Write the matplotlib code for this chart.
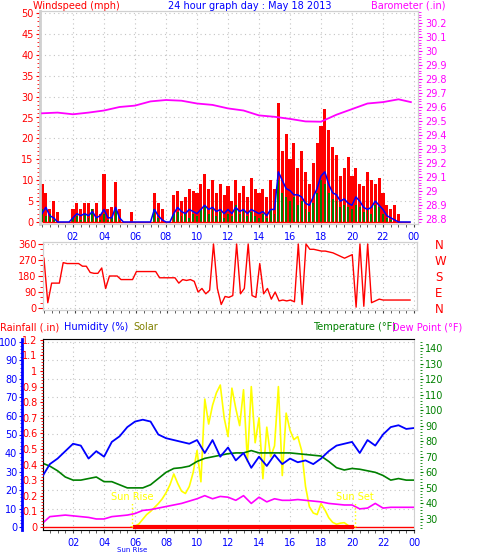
import numpy as np
import matplotlib.pyplot as plt
from matplotlib.ticker import MultipleLocator, FixedLocator, FuncFormatter
import matplotlib.transforms as mtransforms

plt.rcParams['font.family'] = ['DejaVu Sans']

# ---- data ----
# wind, every 15 minutes from 00:00
hours = np.arange(96) * 0.25
gust = [9, 7, 3, 5, 2.5, 0, 0, 0, 3, 4.5, 3, 4.5, 4.5, 3, 4.5, 2,
        11.5, 3, 3.5, 9.5, 3, 0, 0, 2.5, 0, 0, 0, 0, 0, 7, 4.5, 3,
        0, 0, 6.5, 7.5, 5, 6, 8, 7.5, 7, 9, 11.5, 8, 10, 7, 9, 6.5,
        8.5, 5, 10, 7, 8.5, 6, 10.5, 8, 7, 8, 6, 10, 8, 28.5, 17, 21,
        15, 19, 13, 17, 12, 9, 14, 19, 23, 27, 22, 18, 16, 11, 13, 15.5,
        11, 13, 9, 8.5, 12, 10, 9, 10.5, 7, 4, 3, 4, 2, 0, 0, 0]
avg_speed = [2, 3.5, 1.5, 1, 0, 0, 0, 0, 1, 2, 1.5, 2, 1.5, 2.5, 1, 1.5,
             3, 1, 1, 3.5, 1, 0, 0, 0, 0, 0, 0, 0, 0, 3, 1.5, 0.5,
             0, 0, 2, 3.5, 2.5, 2, 3, 2.5, 2, 3, 4, 3, 3.5, 2.5, 3, 2,
             3, 2, 3.5, 2.5, 3, 2, 3, 2.5, 2, 2.5, 1.5, 3, 3, 12, 10, 8,
             7.5, 6.5, 6.5, 6, 4.5, 4, 6, 8, 11, 12, 9, 7, 6.5, 5, 5.5, 4.5,
             4, 6, 5, 3.5, 3, 3.5, 5, 4, 3, 1.5, 1, 0.5, 0, 0, 0, 0]
speed = [3, 1.5, 2, 0.5, 0, 0, 0, 0, 1, 1.5, 0.5, 2, 1, 3, 1, 0.5,
         2, 0.5, 1, 3, 0.5, 0, 0, 0, 0, 0, 0, 0, 0, 3, 1, 0,
         0, 0, 2, 2.5, 1.5, 2, 1, 2, 1.5, 3, 4, 2, 3, 1.5, 2.5, 1,
         2, 1.5, 4, 2, 3, 1.5, 2.5, 1.5, 1, 2, 1, 3, 2, 10, 7, 6,
         5, 6, 4, 5, 3, 2.5, 4.5, 7, 10, 9, 7, 5.5, 5, 3.5, 4, 3.5,
         3, 4, 3.5, 2.5, 3, 2, 4, 3.5, 2, 1, 0.5, 0, 0, 0, 0, 0]
wind_dir = [280, 30, 140, 140, 140, 255, 250, 250, 250, 250, 235, 235, 200, 195, 195, 225,
            110, 180, 180, 180, 160, 160, 160, 160, 205, 205, 205, 205, 205, 205, 170, 170,
            170, 170, 170, 140, 160, 155, 160, 150, 90, 110, 80, 100, 360, 110, 20, 65,
            60, 70, 360, 80, 110, 360, 70, 60, 250, 80, 110, 50, 90, 40, 45, 40,
            45, 35, 360, 20, 360, 330, 330, 325, 320, 320, 315, 310, 300, 290, 280, 290,
            300, 5, 360, 10, 360, 30, 40, 50, 45, 45, 45, 45, 45, 45, 45, 45]

# barometer, hourly
baro_hours = [0, 1, 2, 3, 4, 5, 6, 7, 8, 9, 10, 11, 12, 13, 14, 15, 16, 17, 18, 19, 20, 21, 22, 23, 23.8]
barometer = [29.555, 29.56, 29.548, 29.56, 29.575, 29.60, 29.61, 29.64, 29.65, 29.645,
             29.625, 29.615, 29.59, 29.575, 29.54, 29.53, 29.515, 29.497, 29.495, 29.545,
             29.585, 29.625, 29.635, 29.655, 29.635]

# humidity / temperature / dew point, every 30 minutes
half_hours = np.arange(49) * 0.5
humidity = [27, 34, 37, 41, 45, 44, 37, 41, 38, 46, 49, 54, 57, 58, 57, 50, 48,
            47, 46, 45, 47, 40, 47, 38, 43, 36, 40, 32, 38, 33, 39, 34, 37,
            35, 36, 34, 37, 41, 44, 45, 46, 40, 47, 44, 50, 54, 55, 53, 53.5]
temperature = [66, 64, 61, 57, 55, 55, 56, 57, 54, 54, 52, 50, 50, 50, 52, 56, 60,
               62.5, 63, 64, 67, 69, 70, 71, 72, 72.5, 72.5, 74, 72.5, 72.5, 72.5, 72.5, 72.5,
               72, 71.5, 71, 70.5, 67, 63, 61.5, 62.5, 62, 61, 60, 58, 55, 56, 55, 55]
dew_point = [27, 31.5, 32, 32.5, 32, 31.5, 31, 30, 30, 31.5, 32, 32.5, 33.5, 35.5, 36, 37, 38,
             39, 40, 41.5, 43, 45, 43, 44.5, 44, 42, 45, 40, 44, 41, 43, 42, 42,
             42.5, 42, 41.5, 41, 40, 39.5, 39, 39, 36.5, 37, 40, 37, 37.5, 37.5, 37.5, 37.5]
rainfall = [0] * 49

# solar (W/m2), every 15 minutes between sunrise and sunset
solar_hours = np.arange(59) * 0.25 + 5.75
solar = [0, 5, 20, 50, 80, 100, 125, 150, 180, 220, 270, 340, 280, 230, 215, 260,
         350, 490, 290, 820, 660, 780, 860, 910, 700, 580, 890, 760, 650, 880, 420, 900,
         540, 700, 310, 640, 450, 520, 900, 330, 730, 620, 560, 580, 490, 260, 130, 90,
         80, 150, 110, 60, 30, 18, 25, 28, 10, 0, 0]
sunrise, sunset = 5.8, 20.2

tick_hours = [2, 4, 6, 8, 10, 12, 14, 16, 18, 20, 22, 24]
tick_labels = ['02', '04', '06', '08', '10', '12', '14', '16', '18', '20', '22', '00']

# ---- figure ----
W, H = 478, 555
fig = plt.figure(figsize=(W / 100, H / 100), dpi=100)
fig.patch.set_facecolor('white')


def box(x0, y0, x1, y1):
    return [x0 / W, 1 - y1 / H, (x1 - x0) / W, (y1 - y0) / H]


fmt = FuncFormatter(lambda v, p: f'{v:.2f}'.rstrip('0').rstrip('.'))
grid_kw = dict(color='#c4c4c4', linestyle=(0, (1, 3)), linewidth=0.8)
frame = '#d0d0d0'


def time_axis(ax, labels=True):
    ax.set_xticks(tick_hours)
    ax.set_xticklabels(tick_labels if labels else [])
    ax.xaxis.set_minor_locator(MultipleLocator(0.5))
    ax.tick_params(axis='x', which='both', colors='#404040', labelcolor='blue',
                   length=2, labelsize=7, pad=3.5)
    for s in ax.spines.values():
        s.set_color(frame)


# panel 1: wind + barometer
ax1 = fig.add_axes(box(40, 11, 418, 224))
ax1.bar(hours, gust, width=0.2, color='red', linewidth=0)
ax1.hlines(0, hours[0], hours[-1], color='red', lw=1)
ax1.bar(hours, speed, width=0.12, color='green', linewidth=0)
ax1.plot(hours, avg_speed, color='blue', lw=1.1)
ax1.set_xlim(-0.13, 24.26)
ax1.set_ylim(-0.48, 50.48)
time_axis(ax1)
ax1.set_yticks(np.arange(0, 51, 5))
ax1.yaxis.set_minor_locator(MultipleLocator(1))
ax1.tick_params(axis='y', which='both', colors='red', labelsize=7, pad=1.5)
ax1.tick_params(axis='y', which='major', length=3)
ax1.tick_params(axis='y', which='minor', length=2)
ax1.spines['left'].set_linewidth(2)
ax1.grid(True, **grid_kw)
ax1.set_axisbelow(True)

axb = ax1.twinx()
axb.plot(baro_hours, barometer, color='magenta', lw=1.3)
axb.set_ylim(28.764, 30.286)
axb.yaxis.set_major_locator(FixedLocator(np.round(np.arange(28.8, 30.25, 0.1), 1)))
axb.yaxis.set_minor_locator(MultipleLocator(0.02))
axb.yaxis.set_major_formatter(fmt)
axb.tick_params(axis='y', which='both', colors='magenta', labelsize=7, pad=2.5)
axb.tick_params(axis='y', which='major', length=3)
axb.tick_params(axis='y', which='minor', length=2)
for s in axb.spines.values():
    s.set_color(frame)

# panel 2: wind direction
ax2 = fig.add_axes(box(43, 242, 417, 310))
ax2.plot(hours, wind_dir, color='red', lw=1)
ax2.set_xlim(-0.06, 24.2)
ax2.set_ylim(-11, 371)
time_axis(ax2, labels=False)
ax2.set_yticks([0, 90, 180, 270, 360])
ax2.yaxis.set_minor_locator(MultipleLocator(30))
ax2.tick_params(axis='y', which='both', colors='red', labelsize=7, pad=1)
ax2.tick_params(axis='y', which='major', length=3.5)
ax2.tick_params(axis='y', which='minor', length=2)
ax2.grid(True, **grid_kw)
ax2.set_axisbelow(True)

ax2r = ax2.twinx()
ax2r.set_ylim(-11, 371)
ax2r.set_yticks([0, 90, 180, 270, 360])
ax2r.set_yticklabels(['N', 'E', 'S', 'W', 'N'])
ax2r.tick_params(axis='y', length=0, labelcolor='red', labelsize=8.5, pad=13)
for s in ax2r.spines.values():
    s.set_color(frame)

# panel 3: solar / temperature / humidity / rain
pos3 = box(43, 339, 414, 530)
hum_lim = (-1.6, 101.6)
sol_lim = (-19, 1205)
k = (sol_lim[1] - sol_lim[0]) / (hum_lim[1] - hum_lim[0])

axS = fig.add_axes(pos3)
axS.plot(solar_hours, solar, color='yellow', lw=1.2)
axS.set_xlim(0.06, 24.0)
axS.set_ylim(*sol_lim)
axS.set_yticks(np.arange(10, 101, 10) * k)
axS.tick_params(axis='y', length=0, labelleft=False)
time_axis(axS)
axS.grid(True, **grid_kw)
axS.set_axisbelow(True)

axT = axS.twinx()
axT.plot(half_hours, dew_point, color='magenta', lw=1.2)
axT.plot(half_hours, temperature, color='green', lw=1.2)
axT.set_ylim(22.9, 145.8)
axT.set_yticks(np.arange(30, 141, 10))
axT.yaxis.set_minor_locator(MultipleLocator(2))
axT.spines['right'].set_position(('outward', 4))
axT.spines['right'].set_visible(False)
axT.tick_params(axis='y', which='both', colors='green', labelsize=7, pad=2)
axT.tick_params(axis='y', which='major', length=2)
axT.tick_params(axis='y', which='minor', length=1.5)

axH = axS.twinx()
axH.plot(half_hours, humidity, color='blue', lw=1.3)
axH.set_ylim(*hum_lim)
axH.yaxis.tick_left()
axH.spines['left'].set_position(('outward', 15))
axH.spines['left'].set_color('blue')
axH.spines['left'].set_linewidth(2)
for side in ['right', 'top', 'bottom']:
    axH.spines[side].set_visible(False)
axH.set_yticks(np.arange(0, 101, 10))
axH.yaxis.set_minor_locator(MultipleLocator(2))
axH.tick_params(axis='y', which='both', colors='blue', labelsize=7, pad=1)
axH.tick_params(axis='y', which='major', length=2.5)
axH.tick_params(axis='y', which='minor', length=1.5)

axR = axS.twinx()
rain_arr = np.array(rainfall, dtype=float)
daylight = (half_hours >= sunrise) & (half_hours <= sunset)
axR.plot(half_hours, rain_arr, color='red', lw=1)
axR.plot(half_hours[daylight], rain_arr[daylight], color='red', lw=3)
axR.set_ylim(-0.019, 1.205)
axR.yaxis.tick_left()
axR.set_yticks(np.round(np.arange(0, 1.21, 0.1), 1))
axR.yaxis.set_minor_locator(MultipleLocator(0.02))
axR.yaxis.set_major_formatter(fmt)
axR.tick_params(axis='y', which='both', colors='red', labelsize=7, pad=1.5)
axR.tick_params(axis='y', which='major', length=2.5)
axR.tick_params(axis='y', which='minor', length=1.5)
for s in axR.spines.values():
    s.set_visible(False)

for t, lab in [(sunrise, 'Sun Rise'), (sunset, 'Sun Set')]:
    axR.vlines(t, 0, 0.16, colors='yellow', linestyles=':', lw=1)
    axR.text(t, 0.19, lab, color='yellow', fontsize=7, ha='center', va='center')
trans = mtransforms.blended_transform_factory(axR.transData, axR.transAxes)
axR.text(sunrise, -0.103, 'Sun Rise', color='blue', fontsize=5, ha='center', va='center',
         transform=trans)

# titles
def label(x, y, s, c, ha='left'):
    fig.text(x / W, 1 - y / H, s, color=c, fontsize=7, ha=ha, va='center')


label(33, 6, 'Windspeed (mph)', 'red')
label(250, 6, '24 hour graph day : May 18 2013', 'blue', ha='center')
label(371, 6, 'Barometer (.in)', 'magenta')
label(0, 327, 'Rainfall (.in)', 'red')
label(64, 327, 'Humidity (%)', 'blue')
label(133, 327, 'Solar', '#808000')
label(313, 327, 'Temperature (°F)', 'green')
label(392, 327, 'Dew Point (°F)', 'magenta')

fig.savefig('out.png', dpi=100, facecolor='white')
